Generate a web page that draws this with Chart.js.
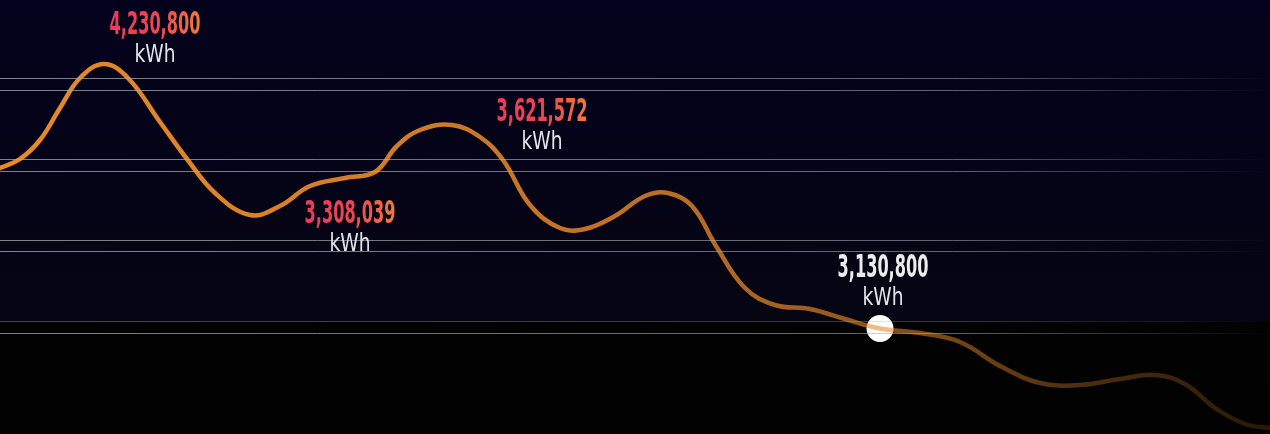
<!DOCTYPE html>
<html>
<head>
<meta charset="utf-8">
<script src="https://cdn.jsdelivr.net/npm/chart.js@4/dist/chart.umd.min.js"></script>
<style>
  html, body { margin: 0; padding: 0; background: #000; }
  canvas { display: block; }
</style>
</head>
<body>
<canvas id="energyChart" width="1270" height="434"></canvas>
<script>
// Position along the period (x) and energy use in kWh
const steps = [0, 20, 40, 60, 80, 104, 128, 160, 187, 215, 250, 280, 310, 345, 375, 397, 420, 452, 480, 503, 530,
  560, 585, 615, 645, 668, 692, 716, 745, 775, 810, 845, 880, 920, 960, 1000, 1040, 1080, 1120, 1155, 1185,
  1215, 1245, 1270];
const usage = [3772800, 3808800, 3884800, 4012800, 4132800, 4188800, 4132800, 3956800, 3808800, 3672800, 3584800,
  3620800, 3700800, 3732800, 3756800, 3860800, 3924800, 3944800, 3896800, 3804800, 3624800,
  3532800, 3528800, 3580800, 3660800, 3672800, 3620800, 3460800, 3292800, 3224800, 3208800,
  3168800, 3130800, 3112800, 3076800, 2980800, 2912800, 2904800, 2928800, 2944800, 2908800,
  2812800, 2748800, 2732800];

// Reference levels drawn as thin lines
const gridLevels = [4132800, 4084800, 3808800, 3760800, 3484800, 3436800, 3160800, 3112800];

// Callouts: text shown, and the curve point each one belongs to
const calloutValues = ["4,230,800", "3,308,039", "3,621,572", "3,130,800"];
const calloutUnit = "kWh";
const calloutSteps = [104, 345, 452, 880];
const highlightStep = 880;

// pixel offsets of each callout from its point (layout only)
const calloutOffsets = [[51, -30], [5, 45], [90, -4], [3, -52]];

const highlightIndex = steps.indexOf(highlightStep);
const lineData = steps.map((s, i) => ({ x: s, y: usage[i] }));

function lineGradient(chart) {
  const area = chart.chartArea;
  if (!area) return "rgb(233,138,42)";
  const g = chart.ctx.createLinearGradient(area.left, 0, area.right, 0);
  g.addColorStop(0, "rgba(234,138,40,1)");
  g.addColorStop(0.3, "rgba(234,138,40,0.9)");
  g.addColorStop(0.55, "rgba(234,138,40,0.78)");
  g.addColorStop(0.7, "rgba(234,138,40,0.58)");
  g.addColorStop(0.85, "rgba(234,138,40,0.33)");
  g.addColorStop(1, "rgba(234,138,40,0.17)");
  return g;
}

function gridGradient(chart, alpha) {
  const area = chart.chartArea;
  if (!area) return "rgba(169,169,178," + alpha + ")";
  const g = chart.ctx.createLinearGradient(area.left, 0, area.right, 0);
  g.addColorStop(0, "rgba(169,169,178," + alpha + ")");
  g.addColorStop(0.75, "rgba(169,169,178," + alpha * 0.75 + ")");
  g.addColorStop(1, "rgba(169,169,178,0)");
  return g;
}

const backgroundPlugin = {
  id: "background",
  beforeDraw(chart) {
    const ctx = chart.ctx;
    const g = ctx.createLinearGradient(0, 0, 0, chart.height);
    g.addColorStop(0, "#04011c");
    g.addColorStop(0.74, "#060512");
    g.addColorStop(0.742, "#020202");
    g.addColorStop(1, "#010101");
    ctx.save();
    ctx.fillStyle = g;
    ctx.fillRect(0, 0, chart.width, chart.height);
    ctx.restore();
  }
};

// draw text squeezed to a given width, centred on x
function squeezedText(ctx, txt, x, y, width, fill) {
  const w = ctx.measureText(txt).width;
  const sx = Math.min(1, width / w);
  ctx.save();
  ctx.translate(x, y);
  ctx.scale(sx, 1);
  ctx.fillStyle = fill(ctx, w);
  ctx.fillText(txt, 0, 0);
  ctx.restore();
}

const calloutPlugin = {
  id: "callouts",
  afterDraw(chart) {
    const ctx = chart.ctx;
    const xs = chart.scales.x;
    const ys = chart.scales.y;
    ctx.save();
    ctx.textAlign = "center";
    ctx.textBaseline = "alphabetic";
    calloutValues.forEach((txt, i) => {
      const idx = steps.indexOf(calloutSteps[i]);
      const px = xs.getPixelForValue(steps[idx]) + calloutOffsets[i][0];
      const py = ys.getPixelForValue(usage[idx]) + calloutOffsets[i][1];
      const isHighlight = calloutSteps[i] === highlightStep;
      ctx.font = "bold 32px 'Liberation Sans Narrow', 'DejaVu Sans Condensed', sans-serif";
      squeezedText(ctx, txt, px, py, 91, (c, w) => {
        if (isHighlight) return "#ececec";
        const tg = c.createLinearGradient(-w / 2, 0, w / 2, 0);
        tg.addColorStop(0, "#ec3a5c");
        tg.addColorStop(0.55, "#ee4650");
        tg.addColorStop(1, "#f27a3a");
        return tg;
      });
      ctx.font = "25px 'Liberation Sans Narrow', 'DejaVu Sans Condensed', sans-serif";
      squeezedText(ctx, calloutUnit, px, py + 28, 41, () => "#e4e4e8");
    });
    ctx.restore();
  }
};

const ctx = document.getElementById("energyChart").getContext("2d");
const energyChart = new Chart(ctx, {
  type: "line",
  data: {
    datasets: [
      {
        label: "Energy use (kWh)",
        data: lineData,
        borderColor: (c) => lineGradient(c.chart),
        borderWidth: 4.5,
        borderCapStyle: "round",
        borderJoinStyle: "round",
        tension: 0.4,
        pointRadius: 0,
        fill: false,
        order: 0,
      },
      {
        label: "Current",
        type: "scatter",
        data: [{ x: steps[highlightIndex], y: usage[highlightIndex] }],
        pointRadius: 13.5,
        pointBackgroundColor: "#ffffff",
        pointBorderWidth: 0,
        order: 1,
      },
    ],
  },
  options: {
    responsive: false,
    devicePixelRatio: 1,
    animation: false,
    layout: { padding: 0, autoPadding: false },
    plugins: {
      legend: { display: false },
      tooltip: { enabled: false },
    },
    scales: {
      x: {
        type: "linear",
        min: 0,
        max: 1270,
        display: false,
      },
      y: {
        type: "linear",
        min: 2708800,
        max: 4444800,
        border: { display: false },
        ticks: { display: false },
        afterBuildTicks: (scale) => {
          scale.ticks = gridLevels.map((v) => ({ value: v }));
        },
        grid: {
          z: 1,
          drawTicks: false,
          lineWidth: 1,
          color: (c) => gridGradient(c.chart, c.index === 6 ? 0.4 : 0.76),
        },
      },
    },
  },
  plugins: [backgroundPlugin, calloutPlugin],
});
</script>
</body>
</html>
